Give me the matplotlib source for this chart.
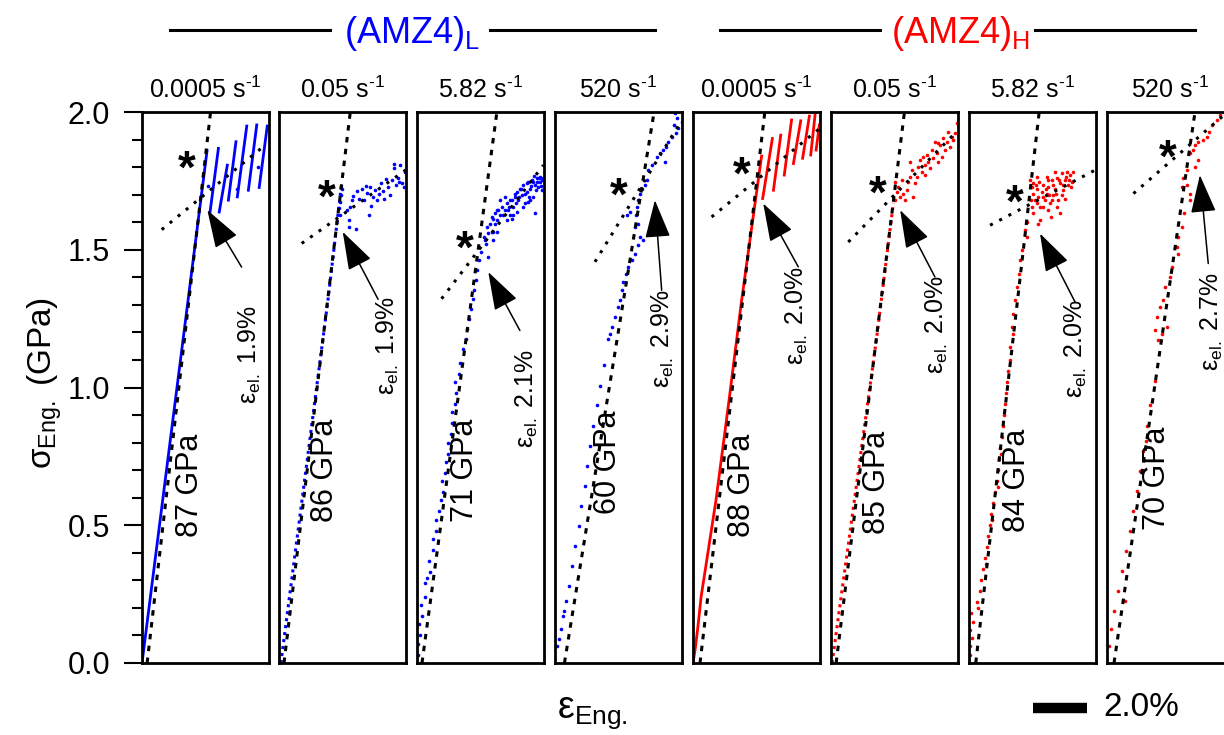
import numpy as np
import matplotlib.pyplot as plt
from matplotlib.lines import Line2D
from matplotlib import transforms
from matplotlib.ticker import MultipleLocator

plt.rcParams['font.family'] = ['Liberation Sans', 'DejaVu Sans']
plt.rcParams['mathtext.fontset'] = 'custom'
plt.rcParams['mathtext.rm'] = 'Liberation Sans'
plt.rcParams['mathtext.it'] = 'Liberation Sans:italic'

BLUE = '#0000ff'
RED = '#ff0000'

# strain in %, stress in GPa
rates = ['0.0005', '0.05', '5.82', '520', '0.0005', '0.05', '5.82', '520']
moduli = [87, 86, 71, 60, 88, 85, 84, 70]
eps_el = [1.9, 1.9, 2.1, 2.9, 2.0, 2.0, 2.0, 2.7]

# panel 1 : (AMZ4)L 0.0005 /s
p1_curve_x = [0, 2.41]
p1_curve_y = [0, 1.86]
p1_serr_x0 = [2.52, 2.86, 3.20, 3.53, 3.94, 4.34]
p1_serr_y0 = [1.637, 1.637, 1.680, 1.692, 1.716, 1.726]
p1_serr_x1 = [2.83, 3.16, 3.48, 3.88, 4.25, 4.64]
p1_serr_y1 = [1.868, 1.807, 1.892, 1.949, 1.953, 1.949]
p1_pts_x = [2.44, 3.52, 4.30, 4.74]
p1_pts_y = [1.73, 1.72, 1.80, 1.77]

# panel 2 : (AMZ4)L 0.05 /s
p2_curve_x = [0.07, 1.83, 2.32]
p2_curve_y = [0, 1.33, 1.742]
p2_pts_x = [2.32, 2.28, 2.26, 2.23, 2.26, 2.53, 2.63, 2.58, 2.60, 2.85, 2.69, 2.75, 2.90, 2.98,
            3.06, 3.15, 3.22, 3.27, 3.35, 3.40, 3.47, 3.56, 3.62, 3.69, 3.77, 3.84, 3.89, 3.96,
            4.05, 4.11, 4.19, 4.26, 4.33, 4.42, 4.48, 4.56, 4.63, 4.67, 4.73, 4.26, 4.46, 3.37]
p2_pts_y = [1.722, 1.698, 1.674, 1.650, 1.625, 1.644, 1.656, 1.607, 1.583, 1.577, 1.680, 1.695,
            1.714, 1.686, 1.722, 1.680, 1.731, 1.707, 1.625, 1.658, 1.692, 1.716, 1.680, 1.702,
            1.741, 1.714, 1.686, 1.755, 1.727, 1.698, 1.753, 1.795, 1.735, 1.762, 1.807, 1.741,
            1.726, 1.783, 1.819, 1.813, 1.747, 1.728]

# panel 3 : (AMZ4)L 5.82 /s
p3_el_x = [0.05, 0.02, 0.12, 0.08, 0.20, 0.15, 0.30, 0.28, 0.38, 0.48, 0.45, 0.60, 0.58, 0.72,
           0.70, 0.83, 0.88, 0.95, 0.92, 1.05, 1.08, 1.15, 1.13, 1.25, 1.30, 1.28, 1.40, 1.45,
           1.42, 1.55, 1.60, 1.72, 1.81, 1.86, 1.94, 2.00, 2.06, 2.11, 2.17, 2.23, 2.28, 2.36]
p3_el_y = [0.03, 0.07, 0.10, 0.14, 0.17, 0.21, 0.24, 0.29, 0.31, 0.33, 0.37, 0.41, 0.45, 0.48,
           0.52, 0.55, 0.59, 0.62, 0.66, 0.69, 0.73, 0.76, 0.80, 0.83, 0.87, 0.91, 0.94, 0.98,
           1.02, 1.05, 1.09, 1.141, 1.177, 1.213, 1.25, 1.286, 1.322, 1.353, 1.389, 1.425,
           1.462, 1.492]
p3_cloud_x = [2.52, 2.64, 2.58, 2.70, 2.83, 2.77, 2.89, 3.01, 2.95, 3.14, 3.20, 3.32, 3.38, 3.44,
              3.51, 3.57, 3.63, 3.69, 3.75, 3.81, 3.88, 3.94, 4.00, 4.06, 4.12, 4.19, 4.25, 4.31,
              4.37, 4.43, 4.49, 4.56, 4.62, 4.65, 4.37, 2.83, 2.64, 3.07, 3.26, 3.57, 3.94, 4.19,
              4.56, 2.77, 2.89, 2.98, 3.07, 3.26, 3.35, 3.42, 3.51, 3.67, 3.72, 3.79, 3.85, 4.00,
              4.09, 4.16, 4.21, 4.28, 4.41, 4.46, 4.53, 4.58, 4.63, 4.33, 4.12, 3.44, 2.95, 2.83,
              2.56, 2.48, 3.63]
p3_cloud_y = [1.535, 1.559, 1.583, 1.595, 1.565, 1.619, 1.632, 1.644, 1.607, 1.656, 1.625, 1.668,
              1.644, 1.680, 1.613, 1.656, 1.692, 1.710, 1.680, 1.722, 1.698, 1.735, 1.668, 1.710,
              1.747, 1.722, 1.753, 1.692, 1.735, 1.759, 1.729, 1.747, 1.716, 1.759, 1.632, 1.535,
              1.474, 1.680, 1.692, 1.625, 1.656, 1.680, 1.765, 1.565, 1.595, 1.565, 1.625, 1.644,
              1.607, 1.656, 1.680, 1.668, 1.638, 1.692, 1.722, 1.704, 1.741, 1.692, 1.731, 1.747,
              1.716, 1.747, 1.759, 1.731, 1.753, 1.767, 1.674, 1.625, 1.644, 1.613, 1.522, 1.547,
              1.704]

# panel 4 : (AMZ4)L 520 /s
p4_pts_x = [4.44, 4.51, 4.69, 4.41, 4.57, 4.48, 4.32, 4.20, 4.11, 4.01, 3.89, 3.77, 4.07, 3.58,
            3.46, 3.40, 3.33, 3.21, 3.15, 3.09, 3.05, 3.00, 2.78, 2.65, 3.09, 2.96, 3.15, 3.27,
            3.09, 2.96, 2.84, 2.72, 2.63, 2.53, 2.47, 2.41, 2.35, 2.22, 2.10, 2.04, 1.98,
            1.82, 1.68, 1.55, 1.40, 1.31, 1.19, 1.10, 0.98, 0.88, 0.73, 0.64, 0.50, 0.42, 0.30,
            0.22, 0.16, 0.08, 0.35]
p4_pts_y = [1.995, 1.977, 1.965, 1.952, 1.941, 1.922, 1.910, 1.892, 1.874, 1.862, 1.850, 1.838,
            1.819, 1.807, 1.789, 1.753, 1.735, 1.722, 1.704, 1.680, 1.656, 1.625, 1.638, 1.625,
            1.595, 1.583, 1.547, 1.535, 1.516, 1.486, 1.462, 1.438, 1.413, 1.383, 1.353, 1.316,
            1.292, 1.256, 1.219, 1.195, 1.177,
            1.08, 1.007, 0.935, 0.862, 0.789, 0.716, 0.644, 0.571, 0.498, 0.425, 0.353, 0.28,
            0.225, 0.171, 0.124, 0.087, 0.062, 0.189]

# panel 5 : (AMZ4)H 0.0005 /s
p5_curve_x = [0, 0.08, 0.18, 0.30, 0.85, 1.33, 1.80, 2.54]
p5_curve_y = [0, 0.05, 0.13, 0.24, 0.59, 0.95, 1.316, 1.84]
p5_serr_x0 = [2.58, 2.98, 3.38, 3.72, 4.06, 4.36, 4.56]
p5_serr_y0 = [1.686, 1.716, 1.771, 1.813, 1.832, 1.844, 1.862]
p5_serr_x1 = [2.94, 3.25, 3.65, 3.99, 4.31, 4.52, 4.68]
p5_serr_y1 = [1.904, 1.916, 1.971, 1.968, 1.985, 1.989, 1.953]

# panel 6 : (AMZ4)H 0.05 /s
p6_curve_x = [0.04, 1.69, 2.31]
p6_curve_y = [0, 1.18, 1.67]
p6_pts_x = [2.37, 2.43, 2.49, 2.37, 2.56, 2.68, 2.74, 2.80, 2.86, 2.93, 2.99, 3.05, 3.11, 3.17,
            3.23, 3.30, 3.36, 3.42, 3.48, 3.54, 3.60, 3.67, 3.73, 3.79, 3.85, 3.91, 3.98, 4.04,
            4.10, 4.16, 4.22, 4.28, 4.35, 4.41, 4.47, 4.53, 4.59, 4.65, 3.48, 3.98, 2.93, 2.62]
p6_pts_y = [1.68, 1.71, 1.728, 1.747, 1.692, 1.704, 1.68, 1.716, 1.747, 1.765, 1.789, 1.692,
            1.741, 1.765, 1.801, 1.825, 1.783, 1.838, 1.807, 1.844, 1.819, 1.795, 1.862, 1.832,
            1.892, 1.85, 1.819, 1.88, 1.838, 1.904, 1.862, 1.892, 1.929, 1.874, 1.91, 1.898,
            1.922, 1.959, 1.771, 1.886, 1.819, 1.753]

# panel 7 : (AMZ4)H 5.82 /s
p7_el_x = [0.05, 0.02, 0.10, 0.04, 0.15, 0.08, 0.30, 0.40, 0.45, 0.52, 0.58, 0.65, 0.70, 0.78,
           0.82, 0.90, 0.95, 1.02, 1.06, 1.12, 1.16, 1.22, 1.26, 1.30, 1.35, 1.38, 1.42, 1.46,
           1.50, 0.35, 0.62, 0.85, 1.08, 1.20,
           1.52, 1.64, 1.58, 1.64, 1.70, 1.77, 1.86, 1.89, 1.95, 2.14, 2.07, 2.14]
p7_el_y = [0.03, 0.06, 0.09, 0.12, 0.15, 0.18, 0.22, 0.26, 0.30, 0.34, 0.38, 0.42, 0.46, 0.50,
           0.54, 0.58, 0.62, 0.66, 0.70, 0.74, 0.78, 0.82, 0.86, 0.90, 0.94, 0.98, 1.02, 1.06,
           1.10, 0.20, 0.36, 0.52, 0.64, 0.76,
           1.147, 1.195, 1.219, 1.268, 1.316, 1.365, 1.413, 1.462, 1.498, 1.547, 1.571, 1.601]
p7_cloud_x = [2.26, 2.32, 2.38, 2.28, 2.44, 2.51, 2.57, 2.63, 2.69, 2.75, 2.81, 2.88, 2.94, 3.00,
              3.02, 3.06, 3.12, 3.19, 3.25, 3.31, 3.37, 3.43, 3.49, 3.56, 3.62, 3.68, 3.74, 3.80,
              3.84, 3.37, 2.63, 2.57, 2.38, 2.51, 2.88, 3.19, 3.56, 2.94,
              2.36, 2.48, 2.60, 2.73, 2.85, 2.98, 3.10, 3.22, 3.35, 3.47, 3.59, 3.72, 3.77, 3.43,
              3.06, 2.75, 2.51, 2.32, 3.25, 2.94]
p7_cloud_y = [1.753, 1.728, 1.704, 1.68, 1.68, 1.722, 1.692, 1.656, 1.71, 1.735, 1.68, 1.704,
              1.728, 1.668, 1.62, 1.753, 1.698, 1.722, 1.759, 1.68, 1.741, 1.777, 1.716, 1.753,
              1.783, 1.735, 1.771, 1.747, 1.783, 1.632, 1.607, 1.595, 1.632, 1.765, 1.765, 1.783,
              1.686, 1.644,
              1.741, 1.735, 1.747, 1.692, 1.722, 1.698, 1.735, 1.704, 1.753, 1.735, 1.765, 1.753,
              1.728, 1.698, 1.68, 1.656, 1.668, 1.656, 1.656, 1.753]

# panel 8 : (AMZ4)H 520 /s
p8_pts_x = [4.19, 4.06, 3.88, 3.79, 3.69, 3.54, 3.38, 3.26, 3.20, 3.07, 3.38, 3.26, 2.95, 2.83,
            2.77, 2.95, 3.07, 3.07, 2.85, 2.77, 2.64, 2.58, 2.64, 2.40, 2.33, 2.14, 2.09, 1.96,
            1.84, 1.78, 2.21, 2.02, 1.90,
            1.78, 1.59, 1.48, 1.33, 1.22, 1.11, 0.96, 0.85, 0.70, 0.56, 0.41, 0.26, 0.15, 0.07,
            0.67, 1.44]
p8_pts_y = [1.989, 1.971, 1.953, 1.929, 1.91, 1.90, 1.892, 1.88, 1.862, 1.85, 1.825, 1.801,
            1.789, 1.759, 1.728, 1.735, 1.704, 1.68, 1.632, 1.583, 1.547, 1.51, 1.486, 1.438,
            1.401, 1.365, 1.316, 1.292, 1.256, 1.207, 1.219, 1.195, 1.171,
            1.025, 0.935, 0.862, 0.771, 0.698, 0.625, 0.553, 0.48, 0.407, 0.335, 0.262, 0.189,
            0.124, 0.062, 0.225, 0.807]

# fitted lines (elastic: dashed, plastic: dotted)
el_fit_x0 = [0.19, 0.185, 0.185, 0.35, 0.26, 0.19, 0.25, 0.26]
el_fit_x1 = [2.54, 2.64, 2.96, 3.67, 2.66, 2.72, 2.60, 3.26]
pl_fit_x0 = [0.73, 0.84, 0.91, 1.48, 0.69, 0.64, 0.78, 0.98]
pl_fit_y0 = [1.573, 1.523, 1.322, 1.456, 1.619, 1.528, 1.589, 1.704]
pl_fit_x1 = [4.49, 4.70, 4.68, 4.69, 4.70, 4.65, 4.67, 4.70]
pl_fit_y1 = [1.874, 1.79, 1.807, 1.97, 1.941, 1.929, 1.789, 2.02]

# yield point markers and annotations
star_x = [1.65, 1.77, 1.78, 2.35, 1.80, 1.75, 1.70, 2.27]
star_y = [1.84, 1.735, 1.547, 1.741, 1.819, 1.747, 1.716, 1.88]
tip_x = [2.42, 2.36, 2.64, 3.70, 2.60, 2.56, 2.63, 3.44]
tip_y = [1.644, 1.565, 1.419, 1.68, 1.668, 1.644, 1.559, 1.771]
tail_x = [3.69, 3.67, 3.81, 3.95, 3.90, 3.85, 3.93, 3.75]
tail_y = [1.437, 1.32, 1.207, 1.353, 1.438, 1.401, 1.31, 1.45]
epslbl_x = [4.00, 4.04, 4.07, 4.00, 3.85, 3.93, 3.96, 3.89]
epslbl_y = [1.12, 1.153, 0.96, 1.178, 1.262, 1.229, 1.142, 1.24]
modlbl_x = [1.78, 1.70, 1.78, 1.97, 1.81, 1.70, 1.78, 1.85]
modlbl_y = [0.644, 0.698, 0.698, 0.727, 0.644, 0.655, 0.662, 0.669]

curves = [(p1_curve_x, p1_curve_y, '-'), (p2_curve_x, p2_curve_y, ':'), None, None,
          (p5_curve_x, p5_curve_y, '-'), (p6_curve_x, p6_curve_y, ':'), None, None]
serrations = [(p1_serr_x0, p1_serr_y0, p1_serr_x1, p1_serr_y1), None, None, None,
              (p5_serr_x0, p5_serr_y0, p5_serr_x1, p5_serr_y1), None, None, None]
points = [(p1_pts_x, p1_pts_y), (p2_pts_x, p2_pts_y),
          (p3_el_x + p3_cloud_x, p3_el_y + p3_cloud_y), (p4_pts_x, p4_pts_y),
          None, (p6_pts_x, p6_pts_y),
          (p7_el_x + p7_cloud_x, p7_el_y + p7_cloud_y), (p8_pts_x, p8_pts_y)]

W, H = 1224, 735
fig = plt.figure(figsize=(W / 100, H / 100), dpi=100)
lefts = [142, 279, 417, 555, 693, 831, 969, 1107]

axes = []
for i in range(8):
    ax = fig.add_axes([lefts[i] / W, 72 / H, 127 / W, 551 / H])
    col = BLUE if i < 4 else RED
    ax.set_xlim(0, 127 / 27)
    ax.set_ylim(0, 2.0)
    for s in ax.spines.values():
        s.set_linewidth(2)

    if curves[i] is not None:
        cx, cy, st = curves[i]
        if st == '-':
            ax.plot(cx, cy, color=col, lw=2, zorder=2)
        else:
            ax.plot(cx, cy, color=col, lw=2.2, ls=(0, (1, 1.3)), zorder=2)
    if serrations[i] is not None:
        x0, y0, x1, y1 = serrations[i]
        for a, b, c, d in zip(x0, y0, x1, y1):
            ax.plot([a, c], [b, d], color=col, lw=2, zorder=2)
    if points[i] is not None:
        ax.plot(points[i][0], points[i][1], 'o', ms=2.6, color=col, mec='none', zorder=2)

    # fits
    ax.plot([el_fit_x0[i], el_fit_x1[i]], [0, 2.0], color='k', lw=2.2,
            ls=(0, (1.8, 2.1)), zorder=3)
    ax.plot([pl_fit_x0[i], pl_fit_x1[i]], [pl_fit_y0[i], pl_fit_y1[i]], color='k', lw=2.2,
            ls=(0, (1.0, 2.4)), zorder=3)

    ax.annotate('*', xy=(star_x[i], star_y[i]), xytext=(0, -19), textcoords='offset points',
                ha='center', va='baseline', fontsize=33, fontweight='bold', zorder=5)
    ax.annotate('', xy=(tip_x[i], tip_y[i]), xytext=(tail_x[i], tail_y[i]),
                arrowprops=dict(arrowstyle='-|>,head_length=1.2,head_width=0.4',
                                mutation_scale=20, lw=1.1, color='k',
                                shrinkA=0, shrinkB=0), zorder=5)
    ax.text(epslbl_x[i], epslbl_y[i], r'ε$_{\mathregular{el.}}$ ' + f'{eps_el[i]:.1f}%',
            rotation=90, ha='center', va='center', fontsize=18)
    ax.text(modlbl_x[i], modlbl_y[i], f'{moduli[i]} GPa', rotation=90, ha='center',
            va='center', fontsize=22)
    ax.text(0.5, 1.026, rates[i] + r' s$^{\text{-1}}$', transform=ax.transAxes,
            ha='center', va='baseline', fontsize=18)

    ax.set_xticks([])
    if i == 0:
        ax.set_yticks([0, 0.5, 1.0, 1.5, 2.0])
        ax.set_yticklabels(['0.0', '0.5', '1.0', '1.5', '2.0'])
        ax.yaxis.set_minor_locator(MultipleLocator(0.1))
        ax.tick_params(axis='y', which='major', direction='out', length=13, width=1.5,
                       labelsize=22, pad=10)
        ax.tick_params(axis='y', which='minor', direction='out', length=7, width=1.5)
    else:
        ax.set_yticks([])
    axes.append(ax)

# group headers
for x0, x1 in [(170, 330), (490, 655), (720, 880), (1035, 1195)]:
    fig.add_artist(Line2D([x0 / W, x1 / W], [1 - 30 / H, 1 - 30 / H], color='k', lw=2.2))
fig.text(412 / W, 1 - 43 / H, r'(AMZ4)$_{\mathregular{L}}$', color=BLUE, fontsize=26,
         ha='center', va='baseline')
fig.text(960 / W, 1 - 43 / H, r'(AMZ4)$_{\mathregular{H}}$', color=RED, fontsize=26,
         ha='center', va='baseline')

# axis labels
fig.text(45 / W, 1 - 383 / H, r'σ$_{\mathregular{Eng.}}$ (GPa)', rotation=90,
         ha='center', va='center', fontsize=24)
fig.text(557 / W, 1 - 718 / H, r'ε$_{\mathregular{Eng.}}$', ha='left', va='baseline',
         fontsize=27)

# 2.0 % strain scale bar, drawn in panel 7 data units
ax7 = axes[6]
tr = transforms.blended_transform_factory(ax7.transData, ax7.transAxes)
ax7.plot([2.37, 4.37], [-0.082, -0.082], color='k', lw=7.5, solid_capstyle='butt',
         transform=tr, clip_on=False)
fig.text(1103 / W, 1 - 708 / H, '2.0%', ha='left', va='center', fontsize=24)

fig.savefig('out.png', dpi=100)
